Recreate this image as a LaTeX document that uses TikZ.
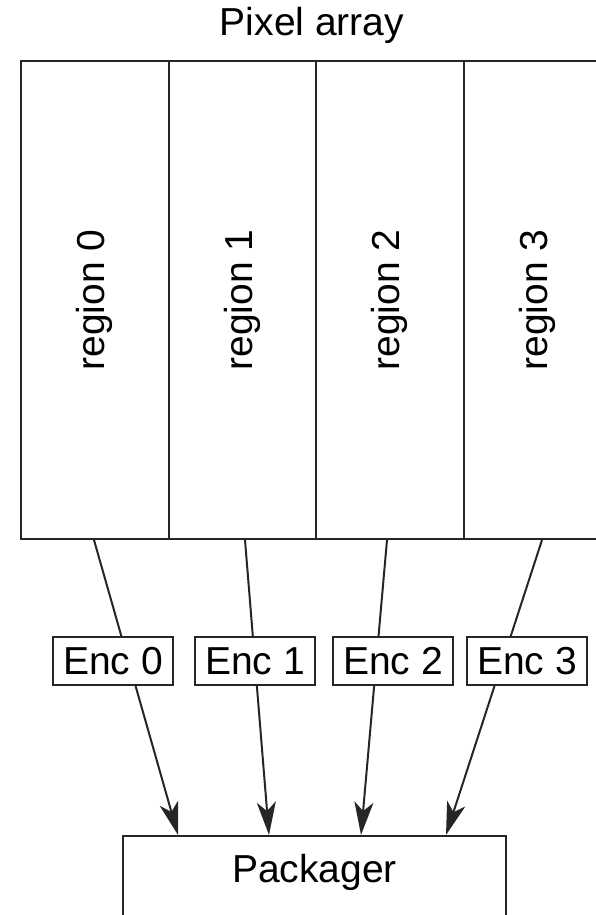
\documentclass[tikz,border=0pt]{standalone}
\usepackage{fontspec}
\setmainfont{Liberation Sans}
\usetikzlibrary{arrows.meta}
\begin{document}
\begin{tikzpicture}[x=1pt,y=-1pt,
  box/.style={draw=black!85, line width=2pt, inner sep=0pt},
  lbl/.style={font=\fontsize{39}{46}\selectfont},
  column/.style={box, minimum width=147.5pt, minimum height=478pt},
  enc/.style={box, lbl, fill=white, minimum width=120pt, minimum height=48pt},
  flow/.style={draw=black!85, line width=2pt, -{Stealth[length=33pt,width=19pt,inset=9pt]}}
]
\useasboundingbox (0,0) rectangle (596,915);
\clip (0,0) rectangle (596,915);

% title of the array
\node[lbl] (title) at (312,25) {Pixel array};

% the four regions of the pixel array
\foreach \i/\x in {0/94.75, 1/242.25, 2/389.75, 3/537.25} {
  \node[column] (r\i) at (\x,300) {};
  \node[lbl, rotate=90] (rt\i) at (r\i) {region \i};
}

% packager block
\node[box, minimum width=383pt, minimum height=100pt, anchor=north] (pk) at (314.5,835) {};
\node[lbl] (pkt) at (314.5,872) {Packager};

% start and end points of the data paths
\path (r0.south) ++(-0.75,0) coordinate (s0);
\path (r1.south) ++(2.75,0)  coordinate (s1);
\path (r2.south) ++(-2.75,0) coordinate (s2);
\path (r3.south) ++(4.75,0)  coordinate (s3);
\path (pk.north west) ++(56,0)  coordinate (t0);
\path (pk.north west) ++(147,0) coordinate (t1);
\path (pk.north west) ++(239,0) coordinate (t2);
\path (pk.north west) ++(324,0) coordinate (t3);

\foreach \i in {0,...,3} {
  \draw[flow] (s\i) -- (t\i);
}

% encoder labels on the paths
\node[enc] (e0) at (113,661) {Enc 0};
\node[enc] (e1) at (255,661) {Enc 1};
\node[enc] (e2) at (393,661) {Enc 2};
\node[enc] (e3) at (527,661) {Enc 3};
\end{tikzpicture}
\end{document}
